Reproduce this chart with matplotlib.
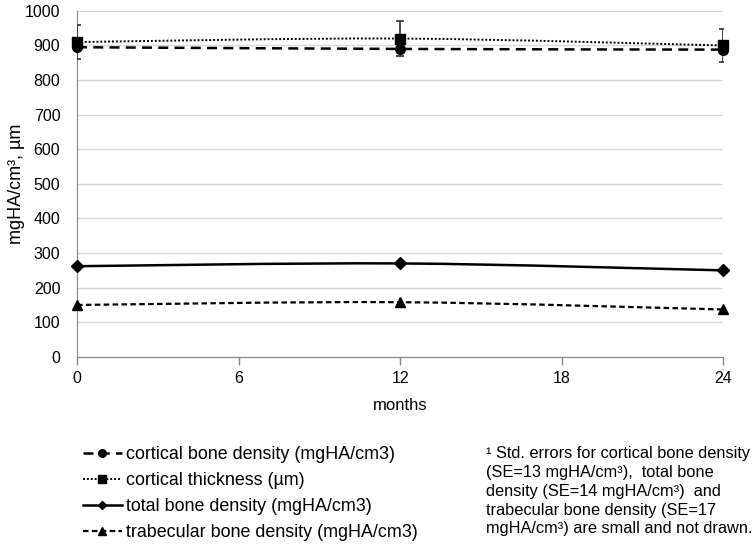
import matplotlib
matplotlib.use("Agg")
import matplotlib.pyplot as plt
from matplotlib.path import Path
from matplotlib.patches import PathPatch
from matplotlib.lines import Line2D
import numpy as np

plt.rcParams['font.family'] = ['Liberation Sans', 'DejaVu Sans']

months = [0, 12, 24]
cortical_density = [895, 890, 888]
cortical_thickness = [910, 920, 900]
thickness_err = [49, 50, 49]
total_density = [262, 270, 250]
trabecular_density = [150, 158, 137]

labels = ["cortical bone density (mgHA/cm3)",
          "cortical thickness (µm)",
          "total bone density (mgHA/cm3)",
          "trabecular bone density (mgHA/cm3)"]
series = [cortical_density, cortical_thickness, total_density, trabecular_density]
styles = [dict(ls=(0, (4, 2.5)), lw=1.8, marker='o', ms=7),
          dict(ls=(0, (1, 1)), lw=1.4, marker='s', ms=7),
          dict(ls='-', lw=1.8, marker='D', ms=6),
          dict(ls=(0, (2.5, 1.5)), lw=1.6, marker='^', ms=7)]

fig = plt.figure(figsize=(7.55, 5.44), dpi=100)
ax = fig.add_axes([0.102, 0.344, 0.856, 0.636])


def smooth_path(x, y):
    pts = np.column_stack([x, y]).astype(float)
    n = len(pts)
    verts = [pts[0]]
    codes = [Path.MOVETO]
    for i in range(n - 1):
        p0 = pts[i - 1] if i > 0 else pts[i]
        p1 = pts[i]
        p2 = pts[i + 1]
        p3 = pts[i + 2] if i + 2 < n else pts[i + 1]
        c1 = p1 + (p2 - p0) / 6.0
        c2 = p2 - (p3 - p1) / 6.0
        verts += [c1, c2, p2]
        codes += [Path.CURVE4] * 3
    return Path(verts, codes)


for data, st in zip(series, styles):
    patch = PathPatch(smooth_path(months, data), fill=False, edgecolor='black',
                      linestyle=st['ls'], linewidth=st['lw'], zorder=3)
    ax.add_patch(patch)

ax.errorbar(months, cortical_thickness, yerr=thickness_err, fmt='none',
            ecolor='#3a3a3a', elinewidth=1.3, capsize=3, capthick=1.3, zorder=4)

for data, st in zip(series, styles):
    ax.plot(months, data, linestyle='none', marker=st['marker'],
            markersize=st['ms'], color='black', zorder=5, clip_on=False)

ax.set_xlim(0, 24)
ax.set_ylim(0, 1000)
ax.set_xticks([0, 6, 12, 18, 24])
ax.set_yticks(range(0, 1001, 100))
ax.grid(axis='y', color='#d9d9d9', lw=1)
ax.set_axisbelow(True)
for s in ['top', 'right']:
    ax.spines[s].set_visible(False)
ax.spines['left'].set_color('#868686')
ax.spines['bottom'].set_color('#868686')
ax.tick_params(axis='y', length=0, labelsize=11.5, pad=12, labelcolor='black')
ax.tick_params(axis='x', length=6, width=1, color='#868686', labelsize=11.5,
               pad=4, labelcolor='black')
ax.set_xlabel("months", fontsize=12, labelpad=9)
ax.set_ylabel("mgHA/cm³, µm", fontsize=13, labelpad=0)

handles = [Line2D([0], [0], color='black', linestyle=st['ls'], lw=st['lw'],
                  marker=st['marker'], markersize=st['ms'] - 1.5)
           for st in styles]
fig.legend(handles, labels, loc='upper left', bbox_to_anchor=(0.110, 0.180),
           frameon=False, fontsize=12.9, handlelength=2.15, handletextpad=0.25,
           labelspacing=0.5, borderaxespad=0, borderpad=0)

note = ("¹ Std. errors for cortical bone density\n"
        "(SE=13 mgHA/cm³),  total bone\n"
        "density (SE=14 mgHA/cm³)  and\n"
        "trabecular bone density (SE=17\n"
        "mgHA/cm³) are small and not drawn.")
fig.text(0.644, 0.180, note, fontsize=11.8, va='top', ha='left', linespacing=1.32)

fig.savefig("out.png", dpi=100)
